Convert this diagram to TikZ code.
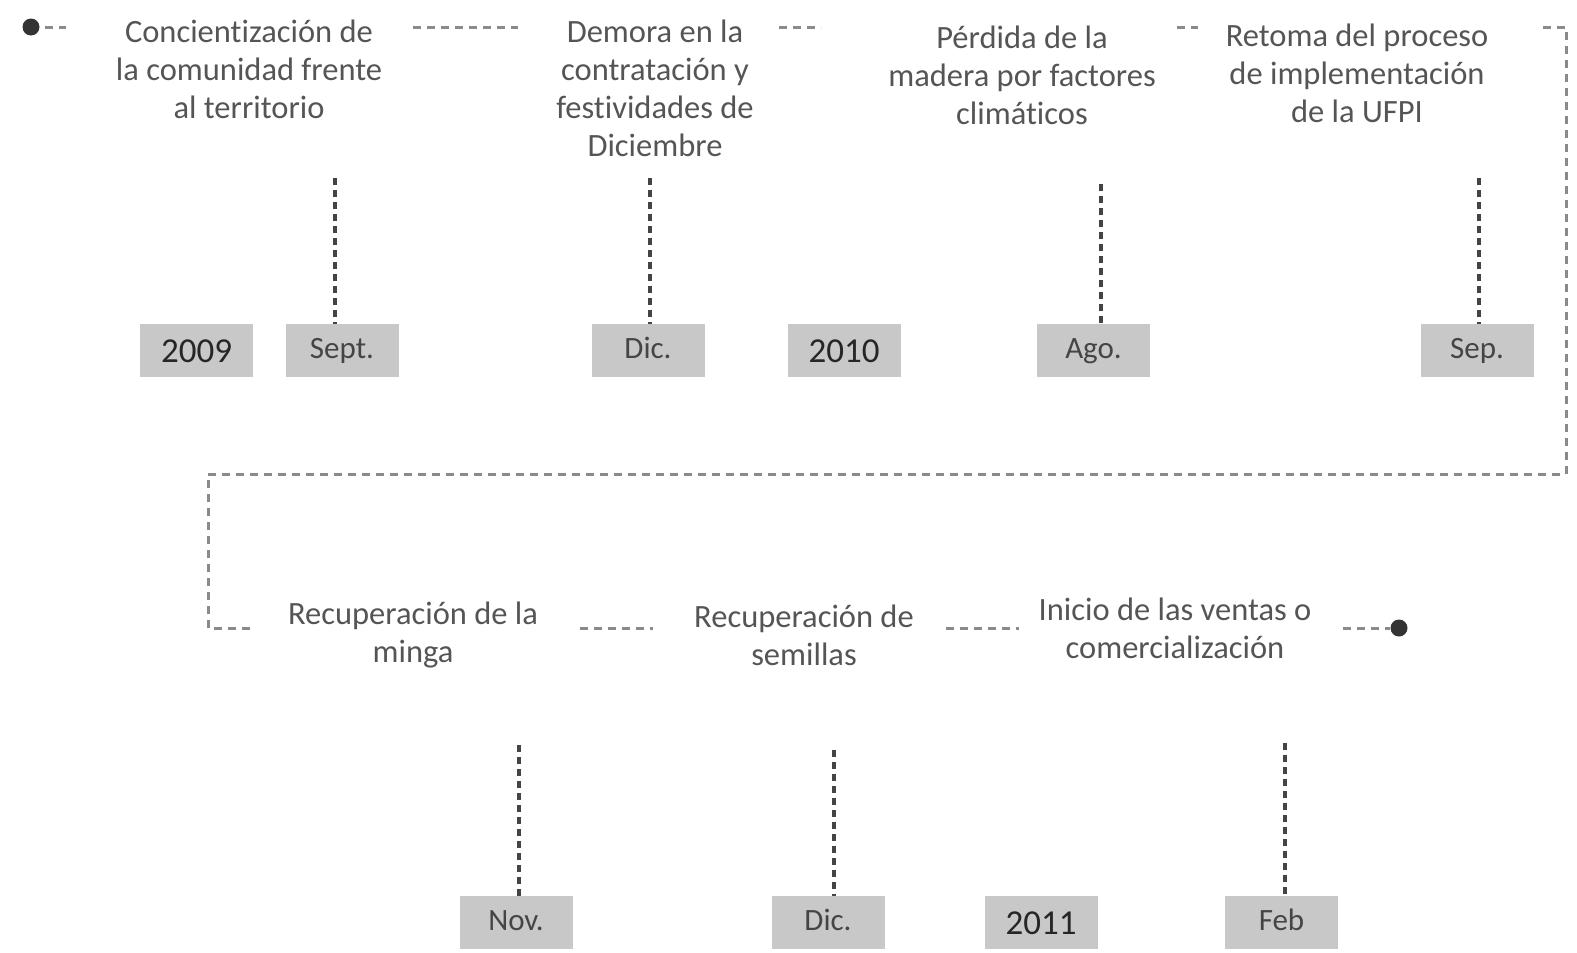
\documentclass[tikz,border=0pt]{standalone}
\usepackage{fontspec}
\setmainfont{Carlito}[Ligatures=NoCommon]
\definecolor{txt}{HTML}{555555}
\definecolor{boxgray}{HTML}{C8C8C9}
\definecolor{boxtxt}{HTML}{454545}
\definecolor{yeartxt}{HTML}{262626}
\definecolor{lgray}{HTML}{8A8A8C}
\definecolor{dgray}{HTML}{444444}
\definecolor{dotc}{HTML}{333333}
\begin{document}
\begin{tikzpicture}[x=1pt,y=-1pt,
  lbl/.style={align=center, text=txt, font=\fontsize{32.5}{38}\selectfont, inner sep=0pt},
  datebox/.style={fill=boxgray, minimum width=113pt, minimum height=53pt, inner sep=0pt, text=boxtxt, font=\fontsize{31}{32}\selectfont, text height=22pt, text depth=7pt},
  yearbox/.style={datebox, text=yeartxt, font=\fontsize{35}{36}\selectfont, text height=24pt, text depth=0pt},
  hdash/.style={draw=lgray, line width=3pt, dash pattern=on 8pt off 6pt},
  vdash/.style={draw=dgray, line width=3.2pt, dash pattern=on 7pt off 5pt},
  dotn/.style={circle, fill=dotc, minimum size=17pt, inner sep=0pt}]
\useasboundingbox (0,0) rectangle (1577,953);
% dots
\node[dotn] (start) at (31,27) {};
\node[dotn] (finish) at (1399,628) {};
% event texts
\node[lbl] (e1) at (249,69) {Concientización de\\la comunidad frente\\al territorio};
\node[lbl] (e2) at (655,88) {Demora en la\\contratación y\\festividades de\\Diciembre};
\node[lbl] (e3) at (1022,75) {Pérdida de la\\madera por factores\\climáticos};
\node[lbl] (e4) at (1357,73) {Retoma del proceso\\de implementación\\de la UFPI};
\node[lbl] (e5) at (413,635) {Recuperación de la\\minga};
\node[lbl] (e6) at (804,635) {Recuperación de\\semillas};
\node[lbl] (e7) at (1175,628) {Inicio de las ventas o\\comercialización};
% date boxes top
\node[yearbox] (y2009) at (196.5,350.5) {2009};
\node[datebox] (sept) at (342,350.5) {Sept.};
\node[datebox] (dic1) at (648,350.5) {Dic.};
\node[yearbox] (y2010) at (844,350.5) {2010};
\node[datebox] (ago) at (1093.5,350.5) {Ago.};
\node[datebox] (sep) at (1477,350.5) {Sep.};
% date boxes bottom
\node[datebox] (nov) at (516,922.5) {Nov.};
\node[datebox] (dic2) at (828,922.5) {Dic.};
\node[yearbox] (y2011) at (1041,922.5) {2011};
\node[datebox] (feb) at (1281.5,922.5) {Feb};
% connector coordinates
\coordinate (a1) at (45,27); \coordinate (a2) at (66,27);
\coordinate (b1) at (413,27); \coordinate (b2) at (518,27);
\coordinate (c1) at (779,27); \coordinate (c2) at (821,27);
\coordinate (d1) at (1177,27); \coordinate (d2) at (1198,27);
\coordinate (f1) at (1543,27); \coordinate (f2) at (1566,27);
\coordinate (f3) at (1566,474); \coordinate (f4) at (208,474);
\coordinate (f5) at (208,628); \coordinate (f6) at (253,628);
\coordinate (g1) at (580,628); \coordinate (g2) at (653,628);
\coordinate (h1) at (946,628); \coordinate (h2) at (1019,628);
\coordinate (k1) at (1343,628);
% horizontal dashed connectors
\draw[hdash] (a1) -- (a2);
\draw[hdash] (b1) -- (b2);
\draw[hdash] (c1) -- (c2);
\draw[hdash] (d1) -- (d2);
\draw[hdash] (f1) -- (f2) -- (f3) -- (f4) -- (f5) -- (f6);
\draw[hdash] (g1) -- (g2);
\draw[hdash] (h1) -- (h2);
\draw[hdash] (k1) -- (finish.west);
% vertical ticks
\coordinate (t1) at (335,178);
\coordinate (t2) at (650,178);
\coordinate (t3) at (1101,184);
\coordinate (t4) at (1479,178);
\coordinate (t5) at (519,745);
\coordinate (t6) at (834,750);
\coordinate (t7) at (1285,743);
\draw[vdash] (t1) -- (t1 |- sept.north);
\draw[vdash] (t2) -- (t2 |- dic1.north);
\draw[vdash] (t3) -- (t3 |- ago.north);
\draw[vdash] (t4) -- (t4 |- sep.north);
\draw[vdash] (t5) -- (t5 |- nov.north);
\draw[vdash] (t6) -- (t6 |- dic2.north);
\draw[vdash] (t7) -- (t7 |- feb.north);
\end{tikzpicture}
\end{document}
